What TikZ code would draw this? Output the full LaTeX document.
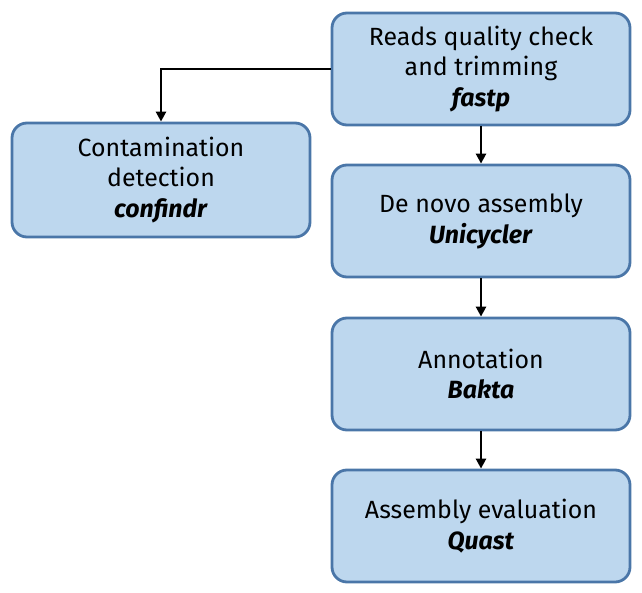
\documentclass[tikz,border=0pt]{standalone}
\usepackage{fontspec}
\setmainfont{Fira Sans}
\usetikzlibrary{arrows.meta}
\definecolor{boxfill}{HTML}{BDD7EE}
\definecolor{boxline}{HTML}{4A76A8}
\begin{document}
\begin{tikzpicture}[x=1bp,y=-1bp,
  stepbox/.style={draw=boxline, fill=boxfill, line width=2.8bp, rounded corners=15bp,
    minimum width=298bp, minimum height=112bp, align=center, inner sep=0pt,
    font=\fontsize{25}{31}\selectfont},
  conn/.style={draw=black, line width=2.8bp, -{Triangle[length=10bp,width=10bp]}}]
\useasboundingbox (0,0) rectangle (642,593);
\node[stepbox] (fastp) at (481,69) {Reads quality check\\and trimming\\\textbf{\textit{fastp}}};
\node[stepbox] (uni) at (481,221) {De novo assembly\\\textbf{\textit{Unicycler}}};
\node[stepbox] (bakta) at (481,374) {Annotation\\\textbf{\textit{Bakta}}};
\node[stepbox] (quast) at (481,526) {Assembly evaluation\\\textbf{\textit{Quast}}};
\node[stepbox, minimum height=114bp] (conf) at (161,180) {Contamination\\detection\\\textbf{\textit{confindr}}};
\draw[conn] (fastp.west |- 0,69) -| (conf.north);
\draw[conn] (fastp.south) -- (uni.north);
\draw[conn] (uni.south) -- (bakta.north);
\draw[conn] (bakta.south) -- (quast.north);
\end{tikzpicture}
\end{document}
